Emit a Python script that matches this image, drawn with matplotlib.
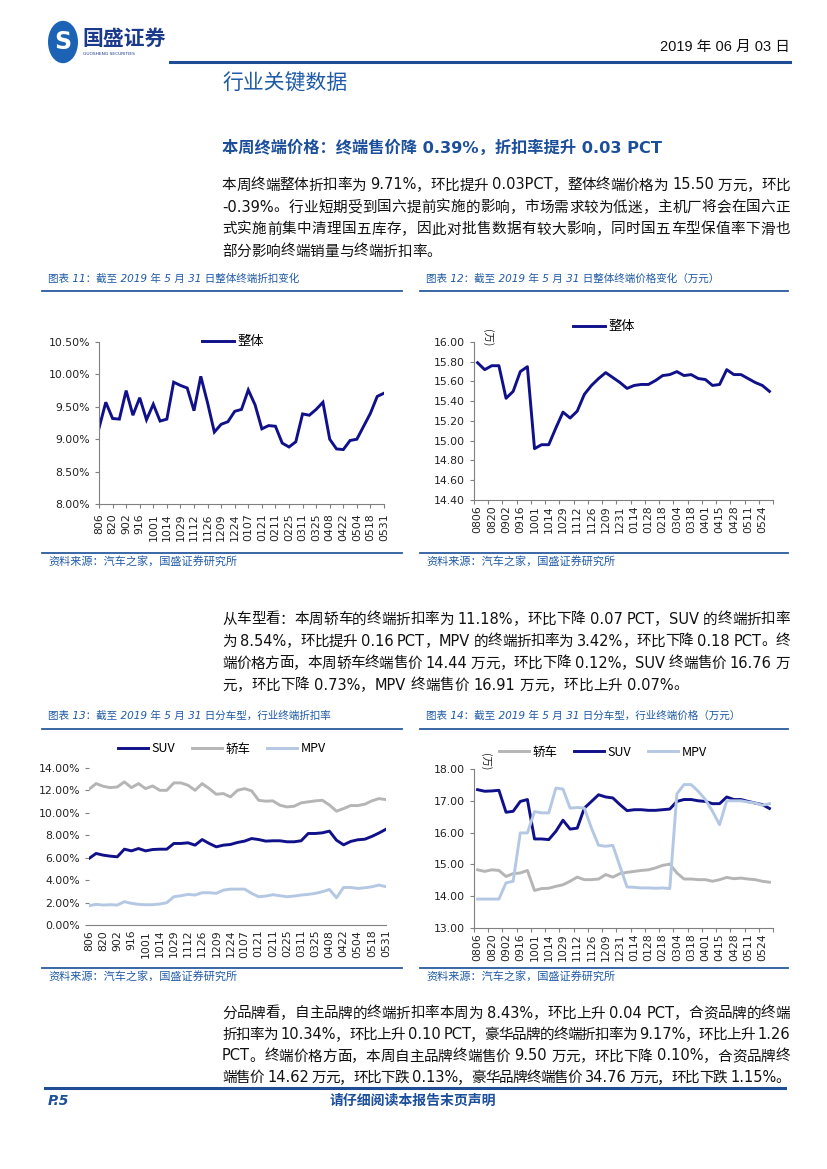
import re
import matplotlib
matplotlib.use("Agg")
import matplotlib.pyplot as plt
from matplotlib.lines import Line2D
from matplotlib.patches import Circle

W, H = 827, 1169
FAM = ['DejaVu Sans', 'Noto Sans CJK SC']
CJK = ['Noto Sans CJK SC', 'DejaVu Sans']
NAVY = '#10108a'
GRAY = '#b5b5b5'
LBLUE = '#b4c8e4'
BLUE = '#1f5aa6'
LINE_BLUE = '#2a5a9e'

# 图表11 整体终端折扣率 (%)
dates_11 = ['806', '820', '902', '916', '1001', '1014', '1029', '1112', '1126', '1209', '1224',
            '0107', '0121', '0211', '0225', '0311', '0325', '0408', '0422', '0504', '0518', '0531']
disc_total = [9.17, 9.57, 9.32, 9.31, 9.75, 9.37, 9.64, 9.30, 9.54, 9.28, 9.31, 9.88, 9.83, 9.79,
              9.44, 9.97, 9.56, 9.11, 9.23, 9.27, 9.43, 9.46, 9.76, 9.53, 9.16, 9.21, 9.20, 8.94,
              8.88, 8.96, 9.39, 9.37, 9.46, 9.57, 9.00, 8.85, 8.84, 8.98, 9.00, 9.20, 9.40, 9.66, 9.71]

# 图表12 整体终端价格 (万元)
dates_12 = ['0806', '0820', '0902', '0916', '1001', '1014', '1029', '1112', '1126', '1209', '1231',
            '0114', '0128', '0218', '0304', '0318', '0401', '0415', '0428', '0511', '0524']
price_total = [15.79, 15.72, 15.76, 15.76, 15.43, 15.50, 15.70, 15.75, 14.92, 14.96, 14.96, 15.13,
               15.29, 15.23, 15.30, 15.47, 15.56, 15.63, 15.69, 15.64, 15.59, 15.53, 15.56, 15.57,
               15.57, 15.61, 15.66, 15.67, 15.70, 15.66, 15.67, 15.63, 15.62, 15.56, 15.57, 15.72,
               15.67, 15.67, 15.63, 15.59, 15.56, 15.50]

# 图表13 分车型折扣率 (%)
disc_suv = [5.93, 6.38, 6.23, 6.14, 6.08, 6.76, 6.61, 6.82, 6.61, 6.73, 6.76, 6.76, 7.27, 7.27,
            7.33, 7.12, 7.62, 7.27, 6.97, 7.12, 7.18, 7.36, 7.48, 7.71, 7.62, 7.48, 7.51, 7.51,
            7.42, 7.42, 7.51, 8.16, 8.16, 8.22, 8.37, 7.56, 7.15, 7.45, 7.60, 7.65, 7.90, 8.20, 8.54]
disc_car = [12.10, 12.61, 12.37, 12.25, 12.31, 12.76, 12.25, 12.61, 12.16, 12.40, 12.01, 12.01,
            12.67, 12.67, 12.46, 12.01, 12.61, 12.16, 11.66, 11.72, 11.42, 12.01, 12.16, 11.96,
            11.12, 11.04, 11.07, 10.68, 10.53, 10.59, 10.89, 10.98, 11.07, 11.12, 10.70, 10.15,
            10.38, 10.65, 10.65, 10.77, 11.07, 11.27, 11.18]
disc_mpv = [1.72, 1.84, 1.78, 1.81, 1.78, 2.08, 1.93, 1.84, 1.81, 1.81, 1.87, 1.99, 2.52, 2.61,
            2.73, 2.67, 2.88, 2.88, 2.82, 3.11, 3.20, 3.20, 3.20, 2.82, 2.52, 2.58, 2.70, 2.61,
            2.52, 2.58, 2.67, 2.73, 2.82, 2.97, 3.17, 2.43, 3.35, 3.35, 3.26, 3.32, 3.41, 3.56, 3.42]

# 图表14 分车型终端价格 (万元)
price_car = [14.83, 14.78, 14.83, 14.81, 14.62, 14.71, 14.73, 14.81, 14.18, 14.24, 14.25, 14.31,
             14.36, 14.47, 14.60, 14.52, 14.52, 14.54, 14.68, 14.60, 14.71, 14.75, 14.78, 14.81,
             14.83, 14.89, 14.97, 15.01, 14.73, 14.54, 14.54, 14.52, 14.52, 14.47, 14.52, 14.59,
             14.55, 14.57, 14.54, 14.52, 14.47, 14.44]
price_suv = [17.35, 17.30, 17.31, 17.33, 16.64, 16.67, 16.98, 17.04, 15.80, 15.80, 15.78, 16.04,
             16.39, 16.11, 16.14, 16.77, 16.98, 17.19, 17.12, 17.09, 16.88, 16.69, 16.72, 16.72,
             16.70, 16.70, 16.72, 16.74, 16.98, 17.04, 17.04, 17.00, 16.98, 16.91, 16.91, 17.12,
             17.04, 17.04, 16.98, 16.93, 16.88, 16.76]
price_mpv = [13.91, 13.91, 13.91, 13.91, 14.42, 14.47, 15.99, 15.99, 16.66, 16.62, 16.62, 17.40,
             17.37, 16.77, 16.79, 16.77, 16.14, 15.60, 15.57, 15.60, 14.94, 14.29, 14.28, 14.26,
             14.26, 14.25, 14.26, 14.24, 17.22, 17.51, 17.51, 17.30, 17.04, 16.67, 16.25, 17.00,
             17.00, 17.00, 16.96, 16.93, 16.86, 16.91]

para1 = ["本周终端整体折扣率为 9.71%，环比提升 0.03PCT，整体终端价格为 15.50 万元，环比",
         "-0.39%。行业短期受到国六提前实施的影响，市场需求较为低迷，主机厂将会在国六正",
         "式实施前集中清理国五库存，因此对批售数据有较大影响，同时国五车型保值率下滑也",
         "部分影响终端销量与终端折扣率。"]
para2 = ["从车型看：本周轿车的终端折扣率为 11.18%，环比下降 0.07 PCT，SUV 的终端折扣率",
         "为 8.54%，环比提升 0.16 PCT，MPV 的终端折扣率为 3.42%，环比下降 0.18 PCT。终",
         "端价格方面，本周轿车终端售价 14.44 万元，环比下降 0.12%，SUV 终端售价 16.76 万",
         "元，环比下降 0.73%，MPV 终端售价 16.91 万元，环比上升 0.07%。"]
para3 = ["分品牌看，自主品牌的终端折扣率本周为 8.43%，环比上升 0.04 PCT，合资品牌的终端",
         "折扣率为 10.34%，环比上升 0.10 PCT，豪华品牌的终端折扣率为 9.17%，环比上升 1.26",
         "PCT。终端价格方面，本周自主品牌终端售价 9.50 万元，环比下降 0.10%，合资品牌终",
         "端售价 14.62 万元，环比下跌 0.13%，豪华品牌终端售价 34.76 万元，环比下跌 1.15%。"]


def fx(px):
    return px / W


def fy(py):
    return 1 - py / H


fig = plt.figure(figsize=(W / 100, H / 100), dpi=100)
rend = fig.canvas.get_renderer()


def text_line(y, s, size=10.5, x0=222, x1=790, justify=True):
    # 两端对齐：逐个字符放置，把多余的宽度平均分到字间
    toks = re.findall(r'[A-Za-z0-9.%\-]+| |.', s)
    objs, widths = [], []
    for t in toks:
        if t == ' ':
            objs.append(None)
            widths.append(0.3 * size * 100 / 72)
            continue
        o = fig.text(0, fy(y), t, fontsize=size, family=FAM, va='center', color='#111111')
        objs.append(o)
        widths.append(o.get_window_extent(rend).width)
    gap = (x1 - x0 - sum(widths)) / (len(toks) - 1) if justify else 0.0
    x = x0
    for o, w in zip(objs, widths):
        if o is not None:
            o.set_x(fx(x))
        x += w + gap


def hline(y, x0, x1, lw=1.5, color=LINE_BLUE):
    fig.add_artist(Line2D([fx(x0), fx(x1)], [fy(y), fy(y)], color=color, lw=lw))


def frame_texts(x0, x1, ytitle, yline_top, yline_bot, title):
    fig.text(fx(x0 + 6), fy(ytitle), title, fontsize=7.6, family=FAM, style='italic',
             color=BLUE, va='center')
    hline(yline_top, x0, x1, lw=1.3)
    hline(yline_bot, x0, x1, lw=1.3)
    fig.text(fx(x0 + 6), fy(yline_bot + 8), '资料来源：汽车之家，国盛证券研究所', fontsize=8,
             family=FAM, style='italic', color=BLUE, va='center')


def style_axes(ax, left_spine=True):
    for s in ['top', 'right']:
        ax.spines[s].set_visible(False)
    ax.spines['left'].set_visible(left_spine)
    ax.spines['left'].set_color('#808080')
    ax.spines['bottom'].set_color('#808080')
    ax.tick_params(axis='both', which='both', colors='#808080', labelcolor='#222222',
                   labelsize=7.8, length=3, width=0.8)
    ax.set_facecolor('none')


def add_legend(ax, handles, labels, cx, cy, size=9):
    lg = ax.legend(handles, labels, loc='center', bbox_to_anchor=(fx(cx), fy(cy)),
                   bbox_transform=fig.transFigure, ncol=len(labels), frameon=False,
                   handlelength=2.4, handletextpad=0.3, columnspacing=1.3,
                   prop={'family': CJK, 'size': size})
    return lg


def between_xaxis(ax, n, labels):
    # 类别坐标轴：刻度线在类别之间，每两个类别一个标签
    ax.set_xlim(-0.5, n - 0.5)
    ax.set_xticks([k - 0.5 for k in range(0, n + 1, 2)])
    ax.set_xticklabels([])
    ax.set_xticks(list(range(0, n, 2))[:len(labels)], minor=True)
    ax.set_xticklabels(labels, minor=True, rotation=90)
    ax.tick_params(axis='x', which='minor', length=0, pad=4)


# ---------- 页眉 ----------
fig.add_artist(Circle((fx(63), fy(42)), 15 / W, transform=fig.transFigure,
                      facecolor='#1d63b5', edgecolor='none'))
fig.text(fx(63), fy(42), 'S', fontsize=17, fontweight='bold', color='white',
         ha='center', va='center', family='DejaVu Sans')
fig.text(fx(82), fy(38), '国盛证券', fontsize=15, fontweight='bold', color='#1b3a8c',
         family=CJK, va='center')
fig.text(fx(83), fy(54), 'GUOSHENG SECURITIES', fontsize=3.2, color='#1b3a8c',
         family='DejaVu Sans', va='center')
fig.text(fx(790), fy(47), '2019 年 06 月 03 日', fontsize=10.5,
         family=['Liberation Sans', 'Noto Sans CJK SC'], ha='right', va='center', color='#111111')
hline(62, 170, 790, lw=2.2, color='#1f4e96')
fig.text(fx(222), fy(84), '行业关键数据', fontsize=15, family=CJK, color=BLUE, va='center')

fig.text(fx(222), fy(148), '本周终端价格：终端售价降 0.39%，折扣率提升 0.03 PCT', fontsize=11.7,
         fontweight='bold', family=FAM, color='#1b4f9c', va='center')

for i, s in enumerate(para1):
    text_line(185 + 22 * i, s, justify=(i < len(para1) - 1))
for i, s in enumerate(para2):
    text_line(619 + 22 * i, s, justify=(i < len(para2) - 1))
for i, s in enumerate(para3):
    text_line(1013 + 21.5 * i, s, justify=True)

# ---------- 图表框 ----------
frame_texts(42, 402, 279, 291, 553, '图表 11：截至 2019 年 5 月 31 日整体终端折扣变化')
frame_texts(420, 788, 279, 291, 553, '图表 12：截至 2019 年 5 月 31 日整体终端价格变化（万元）')
frame_texts(42, 402, 716, 729, 968, '图表 13：截至 2019 年 5 月 31 日分车型，行业终端折扣率')
frame_texts(420, 788, 716, 729, 968, '图表 14：截至 2019 年 5 月 31 日分车型，行业终端价格（万元）')

# ---------- 图表11 ----------
ax1 = fig.add_axes([fx(99), fy(504), fx(384) - fx(99), (504 - 342) / H])
x11 = list(range(len(disc_total)))
ax1.plot(x11, disc_total, color=NAVY, lw=2.1, solid_joinstyle='miter')
ax1.set_xlim(0, len(disc_total) - 1)
ax1.set_ylim(8.0, 10.5)
ax1.set_yticks([8.0, 8.5, 9.0, 9.5, 10.0, 10.5])
ax1.set_yticklabels(['%.2f%%' % v for v in [8.0, 8.5, 9.0, 9.5, 10.0, 10.5]])
ax1.set_xticks(list(range(0, len(disc_total), 2)))
ax1.set_xticklabels(dates_11, rotation=90)
style_axes(ax1)
add_legend(ax1, [Line2D([], [], color=NAVY, lw=2.1)], ['整体'], 233, 342, size=9.5)

# ---------- 图表12 ----------
ax2 = fig.add_axes([fx(474), fy(500), fx(773) - fx(474), (500 - 342) / H])
x12 = list(range(len(price_total)))
ax2.plot(x12, price_total, color=NAVY, lw=2.1)
ax2.set_ylim(14.4, 16.0)
yt = [14.4, 14.6, 14.8, 15.0, 15.2, 15.4, 15.6, 15.8, 16.0]
ax2.set_yticks(yt)
ax2.set_yticklabels(['%.2f' % v for v in yt])
between_xaxis(ax2, len(price_total), dates_12)
style_axes(ax2)
ax2.tick_params(axis='x', which='minor', length=0)
fig.text(fx(487), fy(338), '(万)', rotation=270, fontsize=7.5, family=CJK, ha='center',
         va='center', color='#222222')
add_legend(ax2, [Line2D([], [], color=NAVY, lw=2.1)], ['整体'], 604, 327, size=9.5)

# ---------- 图表13 ----------
ax3 = fig.add_axes([fx(89), fy(925), fx(386) - fx(89), (925 - 768) / H])
x13 = list(range(len(disc_suv)))
l_suv, = ax3.plot(x13, disc_suv, color=NAVY, lw=2.1)
l_car, = ax3.plot(x13, disc_car, color=GRAY, lw=2.1)
l_mpv, = ax3.plot(x13, disc_mpv, color=LBLUE, lw=2.1)
ax3.set_xlim(0, len(disc_suv) - 1)
ax3.set_ylim(0, 14)
yt = [0, 2, 4, 6, 8, 10, 12, 14]
ax3.set_yticks(yt)
ax3.set_yticklabels(['%.2f%%' % v for v in yt])
ax3.set_xticks(list(range(0, len(disc_suv), 2)))
ax3.set_xticklabels(dates_11, rotation=90)
style_axes(ax3, left_spine=False)
ax3.tick_params(axis='x', length=0)
add_legend(ax3, [l_suv, l_car, l_mpv], ['SUV', '轿车', 'MPV'], 222, 749)

# ---------- 图表14 ----------
ax4 = fig.add_axes([fx(474), fy(928), fx(773) - fx(474), (928 - 769) / H])
x14 = list(range(len(price_suv)))
p_car, = ax4.plot(x14, price_car, color=GRAY, lw=2.1)
p_suv, = ax4.plot(x14, price_suv, color=NAVY, lw=2.1)
p_mpv, = ax4.plot(x14, price_mpv, color=LBLUE, lw=2.1)
ax4.set_ylim(13, 18)
yt = [13, 14, 15, 16, 17, 18]
ax4.set_yticks(yt)
ax4.set_yticklabels(['%.2f' % v for v in yt])
between_xaxis(ax4, len(price_suv), dates_12)
style_axes(ax4)
ax4.tick_params(axis='x', which='minor', length=0)
fig.text(fx(485), fy(762), '(万)', rotation=270, fontsize=7.5, family=CJK, ha='center',
         va='center', color='#222222')
add_legend(ax4, [p_car, p_suv, p_mpv], ['轿车', 'SUV', 'MPV'], 603, 752)

# ---------- 页脚 ----------
hline(1088, 45, 785, lw=2.2, color='#1f4e96')
fig.text(fx(48), fy(1101), 'P.5', fontsize=10, fontweight='bold', style='italic',
         color='#1b4f9c', family='DejaVu Sans', va='center')
fig.text(fx(413), fy(1101), '请仔细阅读本报告末页声明', fontsize=10, fontweight='bold',
         style='italic', color='#1b4f9c', family=CJK, va='center', ha='center')

fig.savefig('out.png', dpi=100)
